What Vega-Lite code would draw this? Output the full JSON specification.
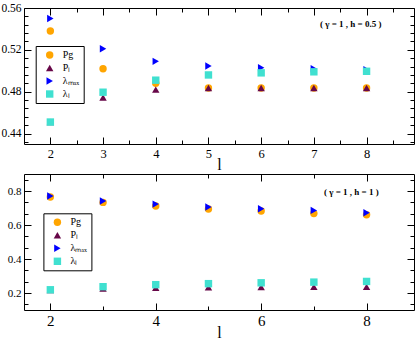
{
  "$schema": "https://vega.github.io/schema/vega-lite/v6.json",
  "padding": {"left": 0, "top": 1, "right": 1, "bottom": 0},
  "background": "white",
  "spacing": 0,
  "config": {
    "view": {"stroke": "black", "strokeWidth": 1},
    "axis": {"grid": false, "domain": false, "tickColor": "black"},
    "legend": {"strokeColor": "black", "fillColor": "white", "padding": 4, "symbolOffset": 5, "labelOffset": 8, "rowPadding": 3, "labelFont": "Liberation Serif", "labelFontSize": 10, "labelColor": "black", "symbolSize": 55, "symbolStrokeWidth": 0}
  },
  "datasets": {
    "dtop": [
      {"series": "Pg", "l": 2, "v": 0.538}, {"series": "Pg", "l": 3, "v": 0.502}, {"series": "Pg", "l": 4, "v": 0.488}, {"series": "Pg", "l": 5, "v": 0.4835}, {"series": "Pg", "l": 6, "v": 0.4835}, {"series": "Pg", "l": 7, "v": 0.4835}, {"series": "Pg", "l": 8, "v": 0.4835},
      {"series": "Pₗ", "l": 2, "v": 0.451}, {"series": "Pₗ", "l": 3, "v": 0.4745}, {"series": "Pₗ", "l": 4, "v": 0.482}, {"series": "Pₗ", "l": 5, "v": 0.4835}, {"series": "Pₗ", "l": 6, "v": 0.4835}, {"series": "Pₗ", "l": 7, "v": 0.4835}, {"series": "Pₗ", "l": 8, "v": 0.4835},
      {"series": "λₘₐₓ", "l": 2, "v": 0.55}, {"series": "λₘₐₓ", "l": 3, "v": 0.521}, {"series": "λₘₐₓ", "l": 4, "v": 0.509}, {"series": "λₘₐₓ", "l": 5, "v": 0.5045}, {"series": "λₘₐₓ", "l": 6, "v": 0.503}, {"series": "λₘₐₓ", "l": 7, "v": 0.502}, {"series": "λₘₐₓ", "l": 8, "v": 0.501},
      {"series": "λₗ", "l": 2, "v": 0.451}, {"series": "λₗ", "l": 3, "v": 0.4795}, {"series": "λₗ", "l": 4, "v": 0.491}, {"series": "λₗ", "l": 5, "v": 0.496}, {"series": "λₗ", "l": 6, "v": 0.498}, {"series": "λₗ", "l": 7, "v": 0.499}, {"series": "λₗ", "l": 8, "v": 0.4995}
    ],
    "dbottom": [
      {"series": "Pg", "l": 2, "v": 0.765}, {"series": "Pg", "l": 3, "v": 0.733}, {"series": "Pg", "l": 4, "v": 0.712}, {"series": "Pg", "l": 5, "v": 0.694}, {"series": "Pg", "l": 6, "v": 0.682}, {"series": "Pg", "l": 7, "v": 0.668}, {"series": "Pg", "l": 8, "v": 0.66},
      {"series": "Pₗ", "l": 2, "v": 0.218}, {"series": "Pₗ", "l": 3, "v": 0.226}, {"series": "Pₗ", "l": 4, "v": 0.231}, {"series": "Pₗ", "l": 5, "v": 0.234}, {"series": "Pₗ", "l": 6, "v": 0.235}, {"series": "Pₗ", "l": 7, "v": 0.236}, {"series": "Pₗ", "l": 8, "v": 0.236},
      {"series": "λₘₐₓ", "l": 2, "v": 0.771}, {"series": "λₘₐₓ", "l": 3, "v": 0.741}, {"series": "λₘₐₓ", "l": 4, "v": 0.723}, {"series": "λₘₐₓ", "l": 5, "v": 0.706}, {"series": "λₘₐₓ", "l": 6, "v": 0.696}, {"series": "λₘₐₓ", "l": 7, "v": 0.686}, {"series": "λₘₐₓ", "l": 8, "v": 0.672},
      {"series": "λₗ", "l": 2, "v": 0.219}, {"series": "λₗ", "l": 3, "v": 0.237}, {"series": "λₗ", "l": 4, "v": 0.249}, {"series": "λₗ", "l": 5, "v": 0.255}, {"series": "λₗ", "l": 6, "v": 0.26}, {"series": "λₗ", "l": 7, "v": 0.264}, {"series": "λₗ", "l": 8, "v": 0.268}
    ]
  },
  "resolve": {"scale": {"color": "independent", "shape": "independent"}},
  "vconcat": [
    {
      "width": 390,
      "height": 136,
      "resolve": {"axis": {"x": "independent", "y": "independent"}},
      "layer": [
        {
          "data": {"name": "dtop"},
          "mark": {"type": "point", "filled": true, "opacity": 1, "size": 55},
          "encoding": {
            "x": {"field": "l", "type": "quantitative", "scale": {"domain": [1.5, 8.9], "nice": false, "zero": false},
                  "axis": {"orient": "bottom", "values": [2, 3, 4, 5, 6, 7, 8], "ticks": false, "labelPadding": 3, "labelFont": "Liberation Serif", "labelColor": "black", "labelFontSize": 12.5, "title": "l", "titleFont": "Liberation Serif", "titleFontWeight": "normal", "titleColor": "black", "titleFontSize": 16, "titlePadding": -3}},
            "y": {"field": "v", "type": "quantitative", "scale": {"domain": [0.43, 0.56], "nice": false, "zero": false},
                  "axis": {"orient": "left", "values": [0.44, 0.48, 0.52, 0.56], "format": ".2f", "ticks": false, "labelPadding": 3, "labelFont": "Liberation Serif", "labelColor": "black", "labelFontSize": 11.5, "title": null}},
            "color": {"field": "series", "type": "nominal",
                      "scale": {"domain": ["Pg", "Pₗ", "λₘₐₓ", "λₗ"], "range": ["#FFA500", "#670748", "#0000FF", "#40E0D0"]},
                      "legend": {"title": null, "orient": "none", "legendX": 11.7, "legendY": 38}},
            "shape": {"field": "series", "type": "nominal",
                      "scale": {"domain": ["Pg", "Pₗ", "λₘₐₓ", "λₗ"], "range": ["circle", "triangle-up", "triangle-right", "square"]},
                      "legend": {"title": null, "orient": "none", "legendX": 11.7, "legendY": 38}}
          }
        },
        {
          "data": {"name": "dtop"},
          "mark": {"type": "point", "opacity": 0},
          "encoding": {
            "x": {"field": "l", "type": "quantitative", "axis": {"orient": "bottom", "values": [2, 3, 4, 5, 6, 7, 8], "offset": -7, "tickSize": 7, "labels": false, "title": null}},
            "y": {"field": "v", "type": "quantitative", "axis": {"orient": "left", "values": [0.44, 0.48, 0.52, 0.56], "offset": -7, "tickSize": 7, "labels": false, "title": null}}
          }
        },
        {
          "data": {"name": "dtop"},
          "mark": {"type": "point", "opacity": 0},
          "encoding": {
            "x": {"field": "l", "type": "quantitative", "axis": {"orient": "bottom", "values": [2.5, 3.5, 4.5, 5.5, 6.5, 7.5, 8.5], "offset": -4, "tickSize": 4, "labels": false, "title": null}},
            "y": {"field": "v", "type": "quantitative", "axis": {"orient": "left", "values": [0.432, 0.448, 0.456, 0.464, 0.472, 0.488, 0.496, 0.504, 0.512, 0.528, 0.536, 0.544, 0.552], "offset": -4, "tickSize": 4, "labels": false, "title": null}}
          }
        },
        {
          "data": {"name": "dtop"},
          "mark": {"type": "point", "opacity": 0},
          "encoding": {
            "x": {"field": "l", "type": "quantitative", "axis": {"orient": "top", "values": [2, 3, 4, 5, 6, 7, 8], "offset": -7, "tickSize": 7, "labels": false, "title": null}},
            "y": {"field": "v", "type": "quantitative", "axis": {"orient": "right", "values": [0.44, 0.48, 0.52, 0.56], "offset": -7, "tickSize": 7, "labels": false, "title": null}}
          }
        },
        {
          "data": {"name": "dtop"},
          "mark": {"type": "point", "opacity": 0},
          "encoding": {
            "x": {"field": "l", "type": "quantitative", "axis": {"orient": "top", "values": [2.5, 3.5, 4.5, 5.5, 6.5, 7.5, 8.5], "offset": -4, "tickSize": 4, "labels": false, "title": null}},
            "y": {"field": "v", "type": "quantitative", "axis": {"orient": "right", "values": [0.432, 0.448, 0.456, 0.464, 0.472, 0.488, 0.496, 0.504, 0.512, 0.528, 0.536, 0.544, 0.552], "offset": -4, "tickSize": 4, "labels": false, "title": null}}
          }
        },
        {
          "data": {"values": [{"label": "( γ = 1 , h = 0.5 )"}]},
          "mark": {"type": "text", "font": "Liberation Serif", "fontWeight": "bold", "fontSize": 9, "color": "black"},
          "encoding": {
            "x": {"datum": 7.7, "type": "quantitative", "axis": null},
            "y": {"datum": 0.5443, "type": "quantitative", "axis": null},
            "text": {"field": "label"}
          }
        }
      ]
    },
    {
      "width": 390,
      "height": 136,
      "resolve": {"axis": {"x": "independent", "y": "independent"}},
      "layer": [
        {
          "data": {"name": "dbottom"},
          "mark": {"type": "point", "filled": true, "opacity": 1, "size": 55},
          "encoding": {
            "x": {"field": "l", "type": "quantitative", "scale": {"domain": [1.5, 8.9], "nice": false, "zero": false},
                  "axis": {"orient": "bottom", "values": [2, 4, 6, 8], "ticks": false, "labelPadding": 3, "labelFont": "Liberation Serif", "labelColor": "black", "labelFontSize": 15, "title": "l", "titleFont": "Liberation Serif", "titleFontWeight": "normal", "titleColor": "black", "titleFontSize": 16, "titlePadding": -4}},
            "y": {"field": "v", "type": "quantitative", "scale": {"domain": [0.1, 0.9], "nice": false, "zero": false},
                  "axis": {"orient": "left", "values": [0.2, 0.4, 0.6, 0.8], "format": ".1f", "ticks": false, "labelPadding": 3, "labelFont": "Liberation Serif", "labelColor": "black", "labelFontSize": 11, "title": null}},
            "color": {"field": "series", "type": "nominal",
                      "scale": {"domain": ["Pg", "Pₗ", "λₘₐₓ", "λₗ"], "range": ["#FFA500", "#670748", "#0000FF", "#40E0D0"]},
                      "legend": {"title": null, "orient": "none", "legendX": 19.4, "legendY": 39.3}},
            "shape": {"field": "series", "type": "nominal",
                      "scale": {"domain": ["Pg", "Pₗ", "λₘₐₓ", "λₗ"], "range": ["circle", "triangle-up", "triangle-right", "square"]},
                      "legend": {"title": null, "orient": "none", "legendX": 19.4, "legendY": 39.3}}
          }
        },
        {
          "data": {"name": "dbottom"},
          "mark": {"type": "point", "opacity": 0},
          "encoding": {
            "x": {"field": "l", "type": "quantitative", "axis": {"orient": "bottom", "values": [2, 4, 6, 8], "offset": -7, "tickSize": 7, "labels": false, "title": null}},
            "y": {"field": "v", "type": "quantitative", "axis": {"orient": "left", "values": [0.2, 0.4, 0.6, 0.8], "offset": -7, "tickSize": 7, "labels": false, "title": null}}
          }
        },
        {
          "data": {"name": "dbottom"},
          "mark": {"type": "point", "opacity": 0},
          "encoding": {
            "x": {"field": "l", "type": "quantitative", "axis": {"orient": "bottom", "values": [3, 5, 7], "offset": -4, "tickSize": 4, "labels": false, "title": null}},
            "y": {"field": "v", "type": "quantitative", "axis": {"orient": "left", "values": [0.1333, 0.2667, 0.3333, 0.4667, 0.5333, 0.6667, 0.7333, 0.8667], "offset": -4, "tickSize": 4, "labels": false, "title": null}}
          }
        },
        {
          "data": {"name": "dbottom"},
          "mark": {"type": "point", "opacity": 0},
          "encoding": {
            "x": {"field": "l", "type": "quantitative", "axis": {"orient": "top", "values": [2, 4, 6, 8], "offset": -7, "tickSize": 7, "labels": false, "title": null}},
            "y": {"field": "v", "type": "quantitative", "axis": {"orient": "right", "values": [0.2, 0.4, 0.6, 0.8], "offset": -7, "tickSize": 7, "labels": false, "title": null}}
          }
        },
        {
          "data": {"name": "dbottom"},
          "mark": {"type": "point", "opacity": 0},
          "encoding": {
            "x": {"field": "l", "type": "quantitative", "axis": {"orient": "top", "values": [3, 5, 7], "offset": -4, "tickSize": 4, "labels": false, "title": null}},
            "y": {"field": "v", "type": "quantitative", "axis": {"orient": "right", "values": [0.1333, 0.2667, 0.3333, 0.4667, 0.5333, 0.6667, 0.7333, 0.8667], "offset": -4, "tickSize": 4, "labels": false, "title": null}}
          }
        },
        {
          "data": {"values": [{"label": "( γ = 1 , h = 1 )"}]},
          "mark": {"type": "text", "font": "Liberation Serif", "fontWeight": "bold", "fontSize": 9, "color": "black"},
          "encoding": {
            "x": {"datum": 7.71, "type": "quantitative", "axis": null},
            "y": {"datum": 0.796, "type": "quantitative", "axis": null},
            "text": {"field": "label"}
          }
        }
      ]
    }
  ]
}
